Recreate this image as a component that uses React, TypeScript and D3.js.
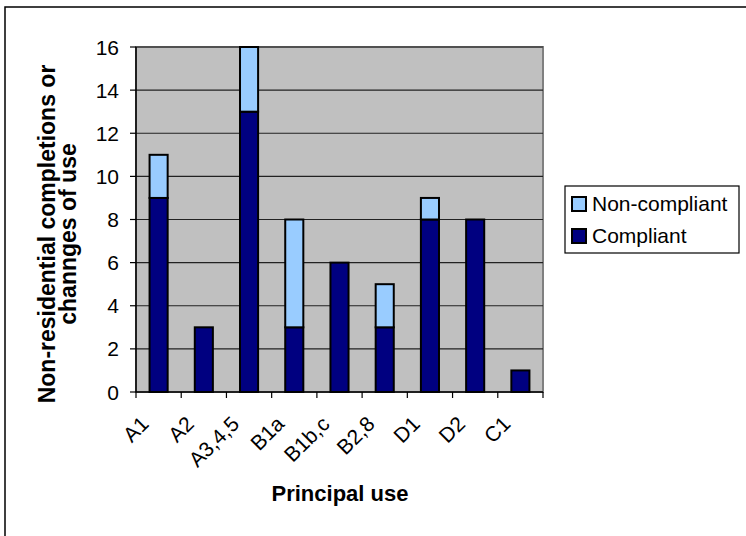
import * as d3 from 'd3'
import React from 'react'

const categories = ['A1', 'A2', 'A3,4,5', 'B1a', 'B1b,c', 'B2,8', 'D1', 'D2', 'C1']
const compliant = [9, 3, 13, 3, 6, 3, 8, 8, 1]
const nonCompliant = [2, 0, 3, 5, 0, 2, 1, 0, 0]
const yTicks = [0, 2, 4, 6, 8, 10, 12, 14, 16]
const seriesNames = ['Non-compliant', 'Compliant']

const W = 746
const H = 536
const left = 136
const right = 543
const top = 47
const bottom = 392
const font = 'Arial, "Liberation Sans", sans-serif'

export default function App() {
  const x = d3.scaleBand().domain(categories).range([left, right]).paddingInner(0.6).paddingOuter(0.3)
  const y = d3.scaleLinear().domain([0, 16]).range([bottom, top])
  const step = x.step()

  const rows = categories.map((c, i) => ({ cat: c, compliant: compliant[i], nonCompliant: nonCompliant[i] }))
  const stack = d3.stack<any>().keys(['compliant', 'nonCompliant'])(rows)
  const colors: Record<string, string> = { compliant: '#000080', nonCompliant: '#99CCFF' }

  return (
    <svg width={W} height={H} style={{ position: 'absolute', left: 0, top: 0 }} fontFamily={font}>
      <rect x={0} y={0} width={W} height={H} fill="#fff" />
      <rect x={5} y={7} width={W + 20} height={H + 20} fill="none" stroke="#000" strokeWidth={1.5} />

      {/* plot area */}
      <rect x={left} y={top} width={right - left} height={bottom - top} fill="#C0C0C0" stroke="#808080" strokeWidth={2} />
      {yTicks.slice(1).map(t => (
        <line key={t} x1={left} x2={right} y1={y(t)} y2={y(t)} stroke="#222" strokeWidth={1.2} />
      ))}

      {/* bars */}
      {stack.map(layer =>
        layer.map((d, i) =>
          d[1] - d[0] > 0 ? (
            <rect
              key={layer.key + i}
              x={x(categories[i])}
              y={y(d[1])}
              width={x.bandwidth()}
              height={y(d[0]) - y(d[1])}
              fill={colors[layer.key]}
              stroke="#000"
              strokeWidth={2}
            />
          ) : null
        )
      )}

      {/* axes */}
      <line x1={left} x2={left} y1={top} y2={bottom} stroke="#000" strokeWidth={1.5} />
      <line x1={left} x2={right} y1={bottom} y2={bottom} stroke="#000" strokeWidth={1.5} />
      {yTicks.map(t => (
        <g key={t}>
          <line x1={left - 6} x2={left} y1={y(t)} y2={y(t)} stroke="#000" strokeWidth={1.2} />
          <text x={left - 17} y={y(t)} dy="0.36em" textAnchor="end" fontSize={21}>
            {t}
          </text>
        </g>
      ))}
      {d3.range(categories.length + 1).map(i => (
        <line key={i} x1={left + i * step} x2={left + i * step} y1={bottom} y2={bottom + 6} stroke="#000" strokeWidth={1.2} />
      ))}
      {categories.map(c => {
        const cx = (x(c) as number) + x.bandwidth() / 2
        return (
          <text key={c} transform={`translate(${cx - 14},${420}) rotate(-45)`} textAnchor="end" dy="0.36em" fontSize={21}>
            {c}
          </text>
        )
      })}

      {/* titles */}
      <text x={340} y={501} textAnchor="middle" fontSize={22} fontWeight="bold">
        Principal use
      </text>
      <g transform="translate(55,234) rotate(-90)">
        <text x={0} y={0} textAnchor="middle" fontSize={23} fontWeight="bold">
          Non-residential completions or
        </text>
        <text x={0} y={21} textAnchor="middle" fontSize={23} fontWeight="bold">
          channges of use
        </text>
      </g>

      {/* legend */}
      <rect x={565} y={186} width={174} height={67} fill="#fff" stroke="#000" strokeWidth={1.2} />
      {seriesNames.map((s, i) => (
        <g key={s} transform={`translate(572,${197 + i * 32})`}>
          <rect x={0} y={0} width={14} height={14} fill={i === 0 ? '#99CCFF' : '#000080'} stroke="#000" strokeWidth={2} />
          <text x={20} y={14} fontSize={21}>
            {s}
          </text>
        </g>
      ))}
    </svg>
  )
}
